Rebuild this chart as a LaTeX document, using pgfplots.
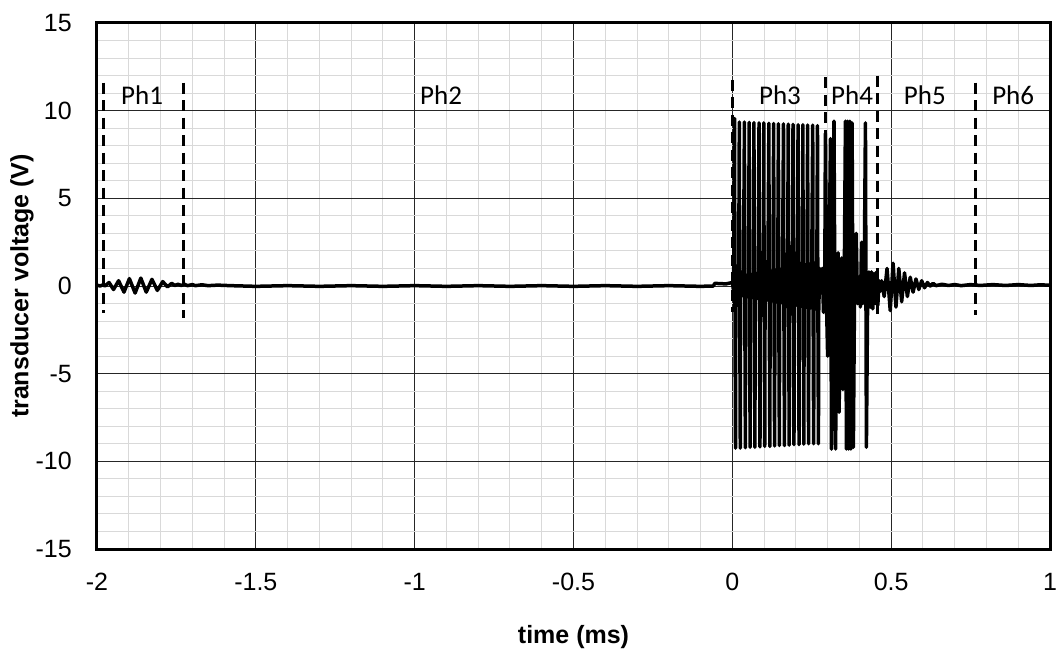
\documentclass[border=0pt]{standalone}
\usepackage{pgfplots}
\pgfplotsset{compat=1.18}
\usetikzlibrary{calc}
\usepackage{fontspec}
\setmainfont{Liberation Sans}
\newfontfamily\calib{Carlito}
\begin{document}
\begin{tikzpicture}
\begin{axis}[
  name=ax,
  at={(0,0)}, anchor=south west,
  scale only axis, width=953pt, height=526pt,
  xmin=-2, xmax=1, ymin=-15, ymax=15,
  xtick={-2,-1.5,-1,-0.5,0,0.5,1},
  xticklabels={-2,-1.5,-1,-0.5,0,0.5,1},
  ytick={-15,-10,-5,0,5,10,15},
  yticklabels={-15,-10,-5,0,5,10,15},
  minor x tick num=4, minor y tick num=4,
  major tick length=0pt, minor tick length=0pt,
  grid=both,
  major grid style={black!85, line width=0.9pt},
  minor grid style={black!15, line width=1pt},
  axis line style={black, line width=3pt},
  ticklabel style={font=\fontsize{25}{30}\selectfont, inner sep=0pt},
  xticklabel style={yshift=-24pt},
  yticklabel style={xshift=-25pt},
  xlabel={time (ms)},
  ylabel={transducer voltage (V)},
  xlabel style={font=\bfseries\fontsize{25}{30}\selectfont, at={(axis description cs:0.5,0)}, anchor=center, yshift=-88pt},
  ylabel style={font=\bfseries\fontsize{25}{30}\selectfont, at={($(axis description cs:0,0.5)+(-75pt,0)$)}, anchor=center},
  clip=true,
]
% phase separators
\addplot[black, line width=3pt, dash pattern=on 11pt off 6.5pt] coordinates {(-1.981,11.6) (-1.981,-1.55)};
\addplot[black, line width=3pt, dash pattern=on 11pt off 6.5pt] coordinates {(-1.729,11.6) (-1.729,-1.8)};
\addplot[black, line width=3pt, dash pattern=on 11pt off 6.5pt] coordinates {(0.001,11.75) (0.001,-1.5)};
\addplot[black, line width=3pt, dash pattern=on 11pt off 6.5pt] coordinates {(0.293,11.9) (0.293,-1.5)};
\addplot[black, line width=3pt, dash pattern=on 11pt off 6.5pt] coordinates {(0.456,12.0) (0.456,-1.8)};
\addplot[black, line width=3pt, dash pattern=on 11pt off 6.5pt] coordinates {(0.765,11.6) (0.765,-1.65)};
% transducer voltage
\addplot[black, line width=3.5pt, line join=round] coordinates {
(-2.0,0.05)(-1.99,0.0)(-1.98,0.08)(-1.975,0.0)
(-1.962,0.2)(-1.948,-0.2)(-1.932,0.3)(-1.915,-0.35)(-1.898,0.42)(-1.880,-0.4)(-1.862,0.45)(-1.845,-0.35)
(-1.827,0.38)(-1.810,-0.25)(-1.793,0.25)(-1.778,-0.05)(-1.765,0.15)(-1.755,0.03)(-1.745,0.1)
(-1.735,0.03)(-1.725,0.1)(-1.715,0.02)(-1.70,0.08)(-1.69,0.02)(-1.67,0.07)(-1.65,0.02)(-1.62,0.05)(-1.58,0.02)
(-1.5,-0.02)(-1.4,0.02)(-1.3,-0.02)(-1.2,0.02)(-1.1,-0.02)(-1.0,0.02)(-0.9,-0.02)(-0.8,0.02)(-0.7,-0.02)
(-0.6,0.02)(-0.5,-0.02)(-0.4,0.02)(-0.3,-0.02)(-0.2,0.02)(-0.1,-0.02)(-0.06,0.0)(-0.055,0.15)(-0.02,0.12)
(0.0,0.2)(0.004,-0.3)
(0.007,9.55)(0.008,0.3)(0.010,-9.25)(0.011,-0.5)(0.014,0.5)(0.017,-0.5)(0.020,0.5)
(0.022,9.35)(0.023,0.3)(0.025,-9.25)(0.026,-0.55)(0.029,0.55)(0.032,-0.55)(0.035,0.55)
(0.038,9.35)(0.039,0.3)(0.041,-9.22)(0.042,-0.6)(0.045,0.6)(0.048,-0.6)(0.051,0.6)
(0.053,9.33)(0.054,0.3)(0.056,-9.2)(0.057,-0.65)(0.060,0.65)(0.063,-0.65)(0.066,0.65)
(0.068,9.32)(0.069,0.3)(0.071,-9.2)(0.072,-0.7)(0.075,0.7)(0.078,-0.7)(0.081,0.7)
(0.084,9.3)(0.085,0.3)(0.087,-9.18)(0.088,-0.75)(0.091,0.75)(0.094,-0.75)(0.097,0.75)
(0.099,9.3)(0.100,0.3)(0.102,-9.15)(0.103,-0.8)(0.106,0.8)(0.109,-0.8)(0.112,0.8)
(0.115,9.28)(0.116,0.3)(0.118,-9.15)(0.119,-0.85)(0.122,0.85)(0.125,-0.85)(0.128,0.85)
(0.130,9.27)(0.131,0.3)(0.133,-9.12)(0.134,-0.9)(0.137,0.9)(0.140,-0.9)(0.143,0.9)
(0.145,9.25)(0.146,0.3)(0.148,-9.1)(0.149,-0.95)(0.152,0.95)(0.155,-0.95)(0.158,0.95)
(0.161,9.25)(0.162,0.3)(0.164,-9.1)(0.165,-1.0)(0.168,1.0)(0.171,-1.0)(0.174,1.0)
(0.176,9.23)(0.177,0.3)(0.179,-9.08)(0.180,-1.05)(0.183,1.05)(0.186,-1.05)(0.189,1.05)
(0.191,9.22)(0.192,0.3)(0.194,-9.05)(0.195,-1.1)(0.198,1.1)(0.201,-1.1)(0.204,1.1)
(0.207,9.2)(0.208,0.3)(0.210,-9.05)(0.211,-1.15)(0.214,1.15)(0.217,-1.15)(0.220,1.15)
(0.222,9.2)(0.223,0.3)(0.225,-9.02)(0.226,-1.2)(0.229,1.2)(0.232,-1.2)(0.235,1.2)
(0.237,9.18)(0.238,0.3)(0.240,-9.0)(0.241,-1.25)(0.244,1.25)(0.247,-1.25)(0.250,1.25)
(0.253,9.17)(0.254,0.3)(0.256,-9.0)(0.257,-1.3)(0.260,1.3)(0.263,-1.3)(0.266,1.3)
(0.268,9.15)(0.269,0.3)(0.271,-9.0)(0.272,-1.35)(0.275,1.0)
(0.278,-0.3)(0.283,1.0)(0.287,-1.5)(0.291,0.5)(0.293,8.7)(0.297,-1.5)(0.300,-4.0)(0.304,0.5)
(0.309,8.4)(0.312,-9.3)(0.316,-2.0)(0.320,9.4)(0.325,-9.3)(0.329,-1.0)(0.333,1.9)(0.336,-7.2)
(0.340,-1.5)(0.344,1.6)(0.348,-5.9)(0.352,-0.5)(0.356,9.4)(0.359,-9.3)(0.363,9.4)(0.366,-9.3)
(0.370,9.4)(0.373,-9.3)(0.377,9.3)(0.381,-9.2)(0.385,0.5)(0.390,3.0)(0.394,-1.0)(0.398,0.5)
(0.403,-1.2)(0.407,2.5)(0.411,-1.0)(0.415,0.3)(0.419,9.3)(0.422,-9.2)(0.426,-0.5)(0.430,0.8)
(0.434,-1.2)(0.438,0.8)(0.442,-1.3)(0.446,0.7)(0.450,-1.0)(0.454,0.8)(0.458,-1.1)(0.462,0.3)
(0.466,-0.3)(0.470,0.3)(0.478,-0.6)(0.487,1.0)(0.497,-1.4)(0.506,1.3)(0.515,-1.2)(0.524,1.0)
(0.533,-0.9)(0.542,0.75)(0.551,-0.6)(0.560,0.5)(0.569,-0.35)(0.578,0.4)(0.587,-0.2)(0.596,0.3)
(0.605,-0.1)(0.614,0.2)(0.623,0.0)(0.632,0.15)(0.641,0.02)(0.66,0.1)(0.68,0.03)(0.70,0.08)
(0.72,0.02)(0.75,0.08)(0.78,0.03)(0.82,0.08)(0.86,0.03)(0.9,0.08)(0.94,0.03)(0.97,0.07)(1.0,0.04)
};
% phase labels
\node[font=\calib\fontsize{27}{30}\selectfont, anchor=center] at (axis cs:-1.858,10.9) {Ph1};
\node[font=\calib\fontsize{27}{30}\selectfont, anchor=center] at (axis cs:-0.917,10.9) {Ph2};
\node[font=\calib\fontsize{27}{30}\selectfont, anchor=center] at (axis cs:0.150,10.9) {Ph3};
\node[font=\calib\fontsize{27}{30}\selectfont, anchor=center] at (axis cs:0.377,10.9) {Ph4};
\node[font=\calib\fontsize{27}{30}\selectfont, anchor=center] at (axis cs:0.606,10.9) {Ph5};
\node[font=\calib\fontsize{27}{30}\selectfont, anchor=center] at (axis cs:0.884,10.9) {Ph6};
\end{axis}
\pgfresetboundingbox
\path[use as bounding box] ($(ax.south west)+(-97pt,-104pt)$) rectangle ($(ax.north east)+(6pt,23pt)$);
\end{tikzpicture}
\end{document}
